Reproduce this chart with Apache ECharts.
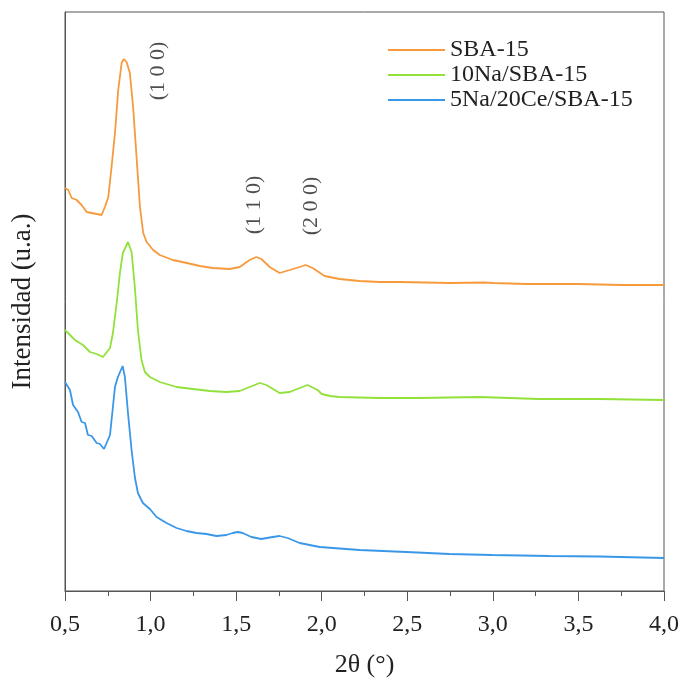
<!DOCTYPE html>
<html>
<head>
<meta charset="utf-8">
<script src="https://cdn.jsdelivr.net/npm/echarts@6/dist/echarts.min.js"></script>
<style>
  html, body { margin: 0; padding: 0; background: #fff; }
  #chart { width: 682px; height: 687px; }
</style>
</head>
<body>
<div id="chart"></div>
<script>
// XRD de bajo angulo, [2theta, intensidad (u.a.)]
var sba15 = [
  [0.500,404],[0.519,402],[0.539,394],[0.568,392],[0.597,387],[0.627,380],[0.656,379],[0.685,378],
  [0.714,377],[0.733,385],[0.753,395],[0.772,425],[0.792,459],[0.811,502],[0.831,529],[0.844,533],
  [0.860,530],[0.879,519],[0.898,485],[0.918,435],[0.938,385],[0.957,359],[0.977,350],[1.015,342],
  [1.054,337],[1.130,332],[1.212,329],[1.288,326],[1.363,324],[1.462,323],[1.521,325],[1.579,332],
  [1.618,335],[1.647,333],[1.696,325],[1.754,319],[1.813,322],[1.871,325],[1.906,327],[1.947,324],
  [2.017,316],[2.104,313],[2.221,311],[2.338,310],[2.454,310],[2.750,309],[2.950,309.5],[3.000,309],
  [3.200,308],[3.500,308],[3.750,307],[4.000,307]
];
var na10 = [
  [0.500,262],[0.529,257],[0.558,252],[0.605,247],[0.646,240],[0.685,238],[0.722,235],[0.763,244],
  [0.780,259],[0.802,289],[0.821,319],[0.838,339],[0.868,350],[0.889,340],[0.908,305],[0.926,262],
  [0.947,232],[0.967,220],[0.996,215],[1.054,210],[1.152,205],[1.247,203],[1.346,201],[1.443,200],
  [1.521,201],[1.579,205],[1.638,209],[1.677,207],[1.754,199],[1.813,200],[1.871,204],[1.918,207],
  [1.976,202],[2.000,198],[2.050,196],[2.104,195],[2.338,194],[2.571,194],[2.921,195],[3.271,193],
  [3.621,193],[4.000,192]
];
var na5ce20 = [
  [0.500,210],[0.529,202],[0.547,187],[0.576,180],[0.597,170],[0.617,169],[0.634,157],[0.656,156],
  [0.685,149],[0.704,148],[0.728,143],[0.763,157],[0.792,205],[0.809,215],[0.837,226],[0.850,215],
  [0.868,179],[0.889,142],[0.908,115],[0.926,99],[0.955,89],[0.996,83],[1.035,75],[1.093,69],
  [1.152,64],[1.210,61],[1.268,59],[1.327,58],[1.385,56],[1.443,57],[1.480,59],[1.509,60],
  [1.538,59],[1.589,55],[1.647,53],[1.713,55],[1.754,56],[1.801,54],[1.871,49],[1.988,45],
  [2.221,42],[2.495,40],[2.746,38],[2.997,37],[3.329,36],[3.621,35.5],[4.000,34]
];
// planos (hkl)
var hkl = [
  [1.043, 521, '(1 0 0)'],
  [1.608, 387, '(1 1 0)'],
  [1.941, 386, '(2 0 0)']
];
var names = ['SBA-15', '10Na/SBA-15', '5Na/20Ce/SBA-15'];
var colors = ['#f79a3c', '#92e03a', '#3a97e8'];

var font = 'Liberation Serif';
var chart = echarts.init(document.getElementById('chart'));

function line(name, data, color) {
  return {
    name: name, type: 'line', data: data,
    showSymbol: false, symbol: 'none',
    lineStyle: { color: color, width: 1.8 },
    itemStyle: { color: color },
    z: 3
  };
}

chart.setOption({
  animation: false,
  grid: {
    left: 65, right: 17, top: 12, bottom: 96,
    show: true, borderColor: '#555', borderWidth: 1
  },
  legend: {
    orient: 'vertical', left: 383, top: 33,
    itemWidth: 57, itemHeight: 2, itemGap: 1,
    icon: 'rect',
    data: names,
    textStyle: { fontFamily: font, fontSize: 24, color: '#222', lineHeight: 20 }
  },
  xAxis: {
    type: 'value', min: 0.5, max: 4.0, interval: 0.5,
    name: '2θ (°)', nameLocation: 'middle', nameGap: 61,
    nameTextStyle: { fontFamily: font, fontSize: 26, color: '#222' },
    axisLine: { lineStyle: { color: '#555', width: 1 } },
    axisTick: { show: true, inside: false, length: 10, lineStyle: { color: '#555' } },
    minorTick: { show: true, splitNumber: 2, length: 5, lineStyle: { color: '#555' } },
    splitLine: { show: false },
    axisLabel: {
      margin: 22, fontFamily: font, fontSize: 24, color: '#222',
      formatter: function (v) { return v.toFixed(1).replace('.', ','); }
    }
  },
  yAxis: {
    type: 'value', min: 1, max: 580,
    name: 'Intensidad (u.a.)', nameLocation: 'middle', nameGap: 29,
    nameTextStyle: { fontFamily: font, fontSize: 27, color: '#222' },
    axisLine: { show: true, lineStyle: { color: '#555' } },
    axisTick: { show: false },
    axisLabel: { show: false },
    splitLine: { show: false }
  },
  series: [
    line(names[0], sba15, colors[0]),
    line(names[1], na10, colors[1]),
    line(names[2], na5ce20, colors[2]),
    {
      name: 'hkl', type: 'scatter', data: hkl, symbolSize: 0,
      label: {
        show: true, position: 'inside', rotate: 90,
        fontFamily: font, fontSize: 22, color: '#222',
        formatter: function (p) { return p.value[2]; }
      },
      silent: true, z: 4
    }
  ]
});
</script>
</body>
</html>
